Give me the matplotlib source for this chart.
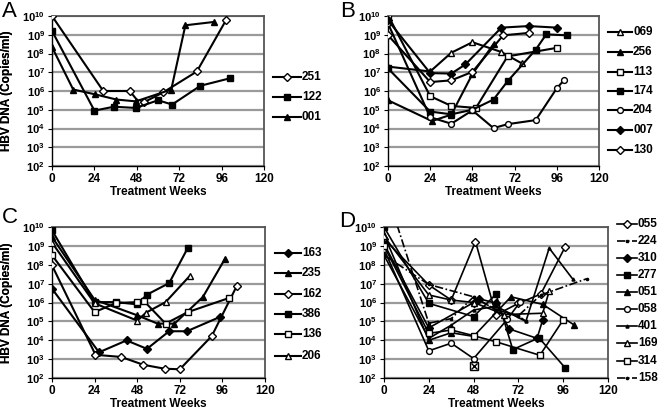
import matplotlib
matplotlib.use("Agg")
import matplotlib.pyplot as plt
from matplotlib.lines import Line2D
from matplotlib.ticker import FixedLocator, NullLocator

plt.rcParams['font.family'] = ['Liberation Sans', 'DejaVu Sans']
plt.rcParams['font.weight'] = 'bold'
plt.rcParams['mathtext.fontset'] = 'custom'
plt.rcParams['mathtext.rm'] = 'Liberation Sans:bold'
plt.rcParams['mathtext.bf'] = 'Liberation Sans:bold'
plt.rcParams['mathtext.default'] = 'bf'

# ---------------- data (weeks, HBV DNA copies/ml) ----------------
# Panel A
a_labels = ['251', '122', '001']
a251_wk = [0, 29, 44, 49.5, 52, 63, 82, 98.5]
a251_v = [1e10, 1e6, 1e6, 2.3e5, 2.5e5, 8.5e5, 1.1e7, 6e9]
a122_wk = [0, 24, 35, 47.5, 60, 68, 84, 100.5]
a122_v = [1.6e9, 9e4, 1.45e5, 1.25e5, 3.2e5, 1.9e5, 1.9e6, 4.7e6]
a001_wk = [0, 12, 24.5, 36.5, 47.5, 67.5, 75.5, 91.5]
a001_v = [2.2e8, 1.2e6, 6.6e5, 3.5e5, 2.8e5, 1.2e6, 3.2e9, 4.8e9]

# Panel B
b_labels = ['069', '256', '113', '174', '204', '007', '130']
b069_wk = [0, 24, 36, 48, 64.5, 76]
b069_v = [2.0e7, 1.1e7, 1.1e8, 4.0e8, 1.2e8, 3.0e7]
b256_wk = [0, 25, 36, 48, 60]
b256_v = [3.2e5, 2.5e4, 5.5e4, 8e6, 3.2e8]
b113_wk = [0, 24, 36, 50, 68, 96]
b113_v = [1.1e10, 5.3e5, 1.6e5, 1.25e5, 7e7, 2e8]
b174_wk = [0, 24, 36, 48, 60, 68, 84, 90, 102]
b174_v = [1.6e7, 8e4, 5.7e4, 1.0e5, 3.5e5, 3.3e6, 1.6e8, 1.05e9, 9.3e8]
b204_wk = [0, 24, 36, 48, 60, 68, 84, 96, 100]
b204_v = [4e9, 4e4, 1.8e4, 9.3e4, 1.05e4, 1.7e4, 2.8e4, 1.4e6, 3.7e6]
b007_wk = [0, 24, 36, 44, 64.5, 80, 96]
b007_v = [5.9e9, 9e6, 8.5e6, 2.6e7, 2.4e9, 2.9e9, 2.4e9]
b130_wk = [0, 24, 36, 48, 65.5, 80]
b130_v = [9.5e8, 3e6, 3.7e6, 1.05e7, 9.3e8, 1.25e9]

# Panel C
c_labels = ['163', '235', '162', '386', '136', '206']
c163_wk = [0, 26.5, 42, 53.5, 66, 76, 94.5]
c163_v = [5.4e6, 2.3e3, 9.8e3, 3.5e3, 3e4, 3e4, 1.7e5]
c235_wk = [0, 24, 48, 59.5, 69, 85, 97.5]
c235_v = [3e9, 1.4e6, 2.1e5, 7.6e4, 7.6e4, 1.95e6, 2.1e8]
c162_wk = [0, 24.5, 39, 51.5, 63.5, 72, 90, 104]
c162_v = [9.3e7, 1.7e3, 1.3e3, 5e2, 3.1e2, 2.9e2, 1.66e4, 7.2e6]
c386_wk = [0, 24, 36, 48, 53.5, 66, 76.5]
c386_v = [6.6e9, 1.05e6, 1.05e6, 8e5, 2.6e6, 1.07e7, 7.8e8]
c136_wk = [0, 24, 36, 48, 52, 64, 76.5, 99.5]
c136_v = [3.2e8, 3.1e5, 9.3e5, 1.05e6, 1.15e6, 7.6e4, 3.1e5, 1.7e6]
c206_wk = [0, 24, 48, 53, 64, 77.5]
c206_v = [1.5e9, 9e5, 1.1e5, 2.9e5, 1.05e6, 2.5e7]

# Panel D
d_labels = ['055', '224', '310', '277', '051', '058', '401', '169', '314', '158']
d055_wk = [0, 24, 36, 49, 60, 72, 84, 97]
d055_v = [2.4e9, 8.5e6, 1.35e6, 1.7e9, 2.2e5, 9e5, 2.8e6, 8.7e8]
d224_wk = [7, 24, 36, 48, 60, 72, 76]
d224_v = [1.26e10, 8e4, 1.4e5, 2e6, 4e5, 2e5, 1e5]
d310_wk = [0, 24, 48, 51, 60, 67, 82, 85]
d310_v = [1.26e9, 4.5e4, 1e6, 1.6e6, 9e5, 4e4, 1.26e4, 1.2e5]
d277_wk = [0, 24, 48, 60, 69, 83, 97]
d277_v = [1e10, 9e5, 1.8e5, 2.75e6, 3.2e3, 1.35e4, 3.5e2]
d051_wk = [0, 24, 36, 48, 68, 85, 102]
d051_v = [4e9, 1e4, 2.5e4, 1.6e4, 2e6, 8e5, 6.3e4]
d058_wk = [0, 24, 36, 48, 66, 73]
d058_v = [6.8e8, 2.75e3, 7e3, 1.07e3, 1.26e5, 1.1e6]
d401_wk = [0, 24, 36, 48, 60, 76, 88.5, 101]
d401_v = [3.2e8, 1.26e4, 6.3e4, 4e5, 6.3e5, 1e5, 7.6e8, 1.8e7]
d169_wk = [0, 24, 36, 48, 64.5, 85, 88.5]
d169_v = [3.2e9, 2.5e6, 1.35e6, 1e6, 2.3e5, 2.7e5, 4e6]
d314_wk = [0, 24, 36, 48, 60, 83.5, 96]
d314_v = [1e9, 2.3e4, 3.5e4, 1.75e4, 8.3e3, 1.6e3, 1.2e5]
d158_wk = [0, 24, 48, 60, 72, 84, 108.5]
d158_v = [3.2e8, 9e6, 2e6, 4e5, 2e5, 2.5e6, 1.8e7]
dx_wk = [48]
dx_v = [4.4e2]

x_ticks = [0, 24, 48, 72, 96, 120]
y_exps = [2, 3, 4, 5, 6, 7, 8, 9, 10]

# ---------------- styles ----------------
K = 'black'
W = 'white'
LW = 1.5
S = {
    'open_diamond': dict(marker='D', mfc=W, mec=K, ms=3.8, ls='-'),
    'filled_square': dict(marker='s', mfc=K, mec=K, ms=4.2, ls='-'),
    'filled_triangle': dict(marker='^', mfc=K, mec=K, ms=5.0, ls='-'),
    'open_square': dict(marker='s', mfc=W, mec=K, ms=4.4, ls='-'),
    'open_circle': dict(marker='o', mfc=W, mec=K, ms=4.2, ls='-'),
    'open_triangle': dict(marker='^', mfc=W, mec=K, ms=5.0, ls='-'),
    'filled_diamond': dict(marker='D', mfc=K, mec=K, ms=3.6, ls='-'),
    'dashdot_sq': dict(marker='s', mfc=K, mec=K, ms=2.0, ls=(0, (5, 1.5, 1, 1.5))),
    'tiny_tri': dict(marker='^', mfc=K, mec=K, ms=2.2, ls='-'),
    'dashdot_dot': dict(marker='o', mfc=K, mec=K, ms=1.6, ls=(0, (5, 1.5, 1, 1.5))),
}

panels = [
    dict(letter='A', rect=[52, 16, 264, 166], letter_xy=(2, 1),
         series=[(a251_wk, a251_v, 'open_diamond'), (a122_wk, a122_v, 'filled_square'),
                 (a001_wk, a001_v, 'filled_triangle')],
         labels=a_labels, leg_x=(273, 301), leg_y=[77, 97, 117], lw=LW),
    dict(letter='B', rect=[388, 16, 599, 166], letter_xy=(340, 1),
         series=[(b069_wk, b069_v, 'open_triangle'), (b256_wk, b256_v, 'filled_triangle'),
                 (b113_wk, b113_v, 'open_square'), (b174_wk, b174_v, 'filled_square'),
                 (b204_wk, b204_v, 'open_circle'), (b007_wk, b007_v, 'filled_diamond'),
                 (b130_wk, b130_v, 'open_diamond')],
         labels=b_labels, leg_x=(608, 632), leg_y=[32, 52, 72, 91, 110, 130, 150], lw=LW),
    dict(letter='C', rect=[52, 227, 265, 378], letter_xy=(2, 207),
         series=[(c163_wk, c163_v, 'filled_diamond'), (c235_wk, c235_v, 'filled_triangle'),
                 (c162_wk, c162_v, 'open_diamond'), (c386_wk, c386_v, 'filled_square'),
                 (c136_wk, c136_v, 'open_square'), (c206_wk, c206_v, 'open_triangle')],
         labels=c_labels, leg_x=(275, 301), leg_y=[253, 273, 294, 314, 334, 356], lw=LW),
    dict(letter='D', rect=[384, 227, 608, 378], letter_xy=(339, 211),
         series=[(d055_wk, d055_v, 'open_diamond'), (d224_wk, d224_v, 'dashdot_sq'),
                 (d310_wk, d310_v, 'filled_diamond'), (d277_wk, d277_v, 'filled_square'),
                 (d051_wk, d051_v, 'filled_triangle'), (d058_wk, d058_v, 'open_circle'),
                 (d401_wk, d401_v, 'tiny_tri'), (d169_wk, d169_v, 'open_triangle'),
                 (d314_wk, d314_v, 'open_square'), (d158_wk, d158_v, 'dashdot_dot')],
         labels=d_labels, leg_x=(617, 637),
         leg_y=[224, 241, 258, 275, 292, 309, 326, 343, 361, 378], lw=1.2),
]

FW, FH = 664, 409
fig = plt.figure(figsize=(FW / 100, FH / 100), dpi=100)

FS = 8.5
for p in panels:
    l, t, r, b = p['rect']
    ax = fig.add_axes([l / FW, 1 - b / FH, (r - l) / FW, (b - t) / FH])
    ax.set_yscale('log')
    ax.set_xlim(0, 120)
    ax.set_ylim(1e2, 1e10)
    ax.yaxis.set_major_locator(FixedLocator([10.0 ** e for e in y_exps]))
    ax.yaxis.set_minor_locator(NullLocator())
    ax.set_yticklabels([r'$10^{%d}$' % e for e in y_exps])
    ax.set_xticks(x_ticks)
    ax.set_xticklabels([str(v) for v in x_ticks])
    ax.tick_params(axis='x', labelsize=FS, length=3, width=0.8, pad=2, direction='out')
    ax.tick_params(axis='y', labelsize=8, length=3, width=0.8, pad=2, direction='out')
    ax.grid(axis='y', color='#9a9a9a', linewidth=1.6)
    ax.set_axisbelow(True)
    for s in ['top', 'right']:
        ax.spines[s].set_color('#555555')
        ax.spines[s].set_linewidth(1.3)
    for s in ['left', 'bottom']:
        ax.spines[s].set_color('black')
        ax.spines[s].set_linewidth(1.0)
    ax.set_xlabel('Treatment Weeks', fontsize=FS, fontweight='bold', labelpad=1)
    ax.set_ylabel('HBV DNA (Copies/ml)', fontsize=FS, fontweight='bold')
    ax.yaxis.set_label_coords(-(l - 13) / (r - l), 0.5)

    for wk, v, st in p['series']:
        kw = S[st]
        ax.plot(wk, v, color=K, lw=p['lw'], marker=kw['marker'], mfc=kw['mfc'],
                mec=kw['mec'], ms=kw['ms'], mew=1.0, ls=kw['ls'], zorder=3)

    if p['letter'] == 'D':
        ax.plot(dx_wk, dx_v, ls='none', marker='s', ms=6, mfc=W, mec=K, mew=1.0, zorder=4)
        ax.plot(dx_wk, dx_v, ls='none', marker='x', ms=5, mec=K, mew=1.0, zorder=5)

    # legend drawn at right
    x1, x2 = p['leg_x']
    for (wk, v, st), lab, yy in zip(p['series'], p['labels'], p['leg_y']):
        kw = S[st]
        yf = 1 - yy / FH
        ln = Line2D([x1 / FW, (x1 + x2) / 2 / FW, x2 / FW], [yf, yf, yf],
                    transform=fig.transFigure, color=K, lw=p['lw'], ls=kw['ls'],
                    marker=kw['marker'], mfc=kw['mfc'], mec=kw['mec'], ms=kw['ms'],
                    mew=1.0, markevery=[1])
        fig.add_artist(ln)
        fig.text((x2 + 1) / FW, yf, lab, fontsize=FS, fontweight='bold', va='center', ha='left')

    lx, ly = p['letter_xy']
    fig.text(lx / FW, 1 - ly / FH, p['letter'], fontsize=16, fontweight='normal',
             va='top', ha='left')

fig.savefig('out.png', dpi=100)
